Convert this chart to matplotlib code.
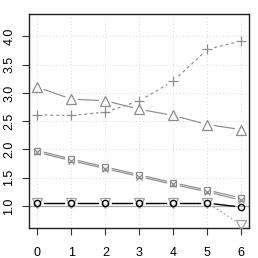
import numpy as np
import matplotlib
matplotlib.use('Agg')
import matplotlib.pyplot as plt

plt.rcParams['font.family'] = ['Liberation Sans', 'DejaVu Sans']

x = [0, 1, 2, 3, 4, 5, 6]
tri_up = [3.10, 2.89, 2.86, 2.71, 2.60, 2.44, 2.35]
plus = [2.61, 2.60, 2.66, 2.86, 3.21, 3.77, 3.92]
sq = [1.98, 1.83, 1.69, 1.55, 1.41, 1.28, 1.14]
cross = [1.95, 1.80, 1.66, 1.52, 1.38, 1.25, 1.10]
circ = [1.05, 1.05, 1.05, 1.05, 1.05, 1.05, 0.98]
tri_dn = [1.05, 1.05, 1.05, 1.05, 1.05, 1.05, 0.67]
yticks = [1.0, 1.5, 2.0, 2.5, 3.0, 3.5, 4.0]

fig = plt.figure(figsize=(2.58, 2.58), dpi=100)
ax = fig.add_axes([29.3/258, 30/258, 220.2/258, 213.7/258])
ax.set_xlim(-0.24, 6.24)
ax.set_ylim(0.61, 4.39)

ax.grid(color='#e0e0e0', ls=(0, (1, 2)), lw=0.8)
ax.set_axisbelow(True)
ax.axhline(1.0, color='#a8a8a8', lw=0.9, zorder=1)

gray = '#8c8c8c'


# lines broken around points, like R type="b"
def gapped(ys, color, ls, lw=0.85, gap=7):
    pts = ax.transData.transform(np.column_stack([x, ys]))
    inv = ax.transData.inverted()
    for p0, p1 in zip(pts[:-1], pts[1:]):
        d = p1 - p0
        L = np.hypot(*d)
        if L <= 2 * gap:
            continue
        u = d / L
        seg = inv.transform([p0 + u * gap, p1 - u * gap])
        ax.plot(seg[:, 0], seg[:, 1], color=color, ls=ls, lw=lw, zorder=2)


gapped(tri_up, gray, '-')
gapped(plus, gray, (0, (2.5, 2.5)))
gapped(sq, gray, '-')
gapped(cross, gray, '-')
gapped(tri_dn, '#a0a0a0', (0, (1.5, 2)))
gapped(circ, 'black', '-', lw=1.0)

ax.plot(x, tri_up, ls='none', marker='^', ms=6.5, mfc='none', mec=gray, mew=0.9, zorder=3)
ax.plot(x, plus, ls='none', marker='+', ms=7.5, mec=gray, mew=0.9, zorder=3)
ax.plot(x, sq, ls='none', marker='s', ms=5, mfc='none', mec=gray, mew=0.9, zorder=3)
ax.plot(x, cross, ls='none', marker='x', ms=4.5, mec=gray, mew=0.9, zorder=3)
ax.plot(x, tri_dn, ls='none', marker='v', ms=6.5, mfc='none', mec='#a0a0a0', mew=0.9, zorder=3)
ax.plot(x, circ, ls='none', marker='o', ms=4.5, mfc='none', mec='black', mew=1.0, zorder=4)

ax.set_xticks(x)
ax.set_xticklabels([str(v) for v in x], fontsize=9)
ax.set_yticks(yticks)
ax.set_yticklabels(['%.1f' % v for v in yticks], fontsize=9, rotation=90, va='center')
ax.tick_params(length=5, width=0.8, color='#333333', pad=9)
ax.tick_params(axis='y', pad=5)

for s in ax.spines.values():
    s.set_color('#222222')
    s.set_linewidth(1.0)

fig.savefig('out.png', dpi=100)
